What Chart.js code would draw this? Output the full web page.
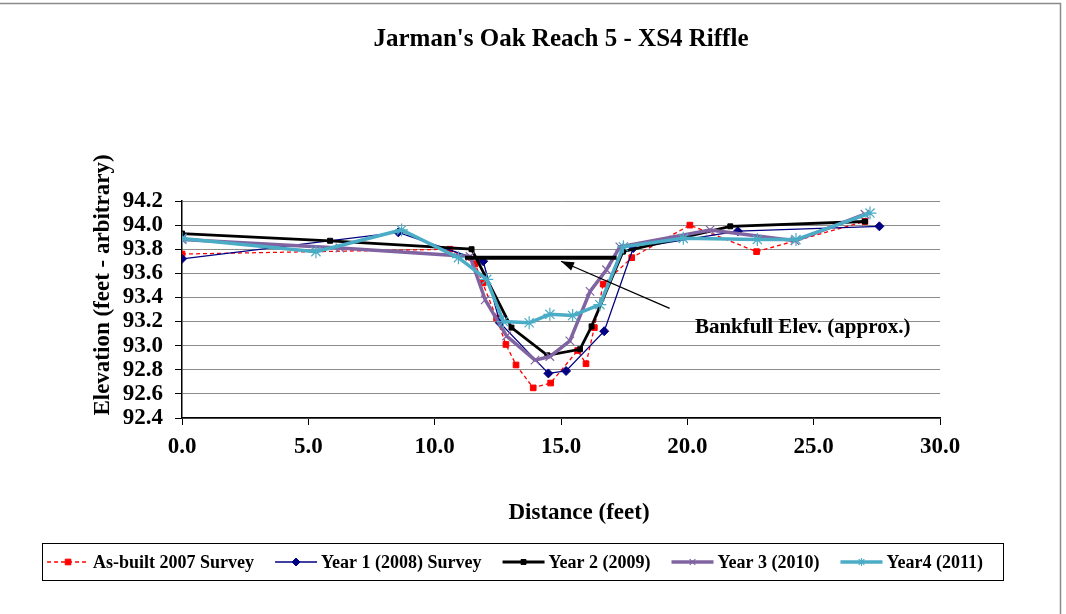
<!DOCTYPE html>
<html>
<head>
<meta charset="utf-8">
<script src="https://cdn.jsdelivr.net/npm/chart.js@4"></script>
<style>
  body { margin: 0; background: #fff; }
  #wrap { width: 1066px; height: 614px; position: relative; }
</style>
</head>
<body>
<div id="wrap"><canvas id="xsChart"></canvas></div>
<script>
// distances (ft) and elevations (ft)
const asBuiltX = [0, 10.6, 11.6, 11.9, 12.45, 12.82, 13.22, 13.9, 14.59, 15.66, 15.99, 16.32, 16.67, 17.8, 20.1, 22.74, 27.03];
const asBuiltY = [93.76, 93.80, 93.68, 93.52, 93.23, 93.01, 92.84, 92.65, 92.69, 92.96, 92.85, 93.15, 93.51, 93.73, 94.00, 93.78, 94.03];

const year1X = [0, 8.56, 11.92, 12.58, 14.5, 15.2, 16.71, 17.86, 22.0, 27.6];
const year1Y = [93.72, 93.94, 93.70, 93.19, 92.77, 92.79, 93.12, 93.81, 93.95, 93.99];

const year2X = [0, 5.86, 11.46, 13.04, 14.46, 15.75, 16.21, 17.45, 21.7, 27.03];
const year2Y = [93.93, 93.87, 93.80, 93.15, 92.92, 92.97, 93.16, 93.78, 93.99, 94.03];

const year3X = [0, 6.25, 11.4, 12.0, 12.85, 13.97, 14.56, 15.35, 16.15, 16.8, 17.33, 20.9, 24.26, 27.03];
const year3Y = [93.88, 93.81, 93.74, 93.38, 93.08, 92.88, 92.91, 93.04, 93.45, 93.63, 93.82, 93.96, 93.87, 94.09];

const year4X = [0, 5.3, 8.69, 10.94, 12.06, 12.72, 13.74, 14.56, 15.46, 16.54, 17.47, 19.84, 22.77, 24.3, 27.23];
const year4Y = [93.89, 93.78, 93.96, 93.73, 93.55, 93.20, 93.19, 93.26, 93.25, 93.34, 93.82, 93.89, 93.88, 93.88, 94.10];

const bankfullX = [11.2, 17.2];
const bankfullY = [93.73, 93.73];

const seriesNames = ['As-built 2007 Survey', 'Year 1 (2008) Survey', 'Year 2 (2009)', 'Year 3 (2010)', 'Year4 (2011)'];
const bankfullLabel = 'Bankfull Elev. (approx.)';
const yTitle = 'Elevation (feet - arbitrary)';
const xTitle = 'Distance (feet)';

const xTicks = { min: 0, max: 30, step: 5 };
const yTicks = { min: 92.4, max: 94.2, step: 0.2 };

// callout placement, in data units
const calloutFrom = [19.3, 93.31];
const calloutTo = [15.0, 93.70];
const calloutText = [20.3, 93.15];

const FONT = "'Liberation Serif', 'Times New Roman', serif";

function pts(xs, ys) {
    return xs.map((x, i) => ({ x: x, y: ys[i] }));
}

const datasets = [
    {
        label: seriesNames[0], data: pts(asBuiltX, asBuiltY),
        borderColor: '#ff0000', backgroundColor: '#ff0000', borderWidth: 1.3, borderDash: [4, 3],
        pointStyle: 'rect', pointRadius: 4, pointBorderWidth: 1, order: 5
    },
    {
        label: seriesNames[1], data: pts(year1X, year1Y),
        borderColor: '#000080', backgroundColor: '#000080', borderWidth: 1.3,
        pointStyle: 'rectRot', pointRadius: 4.5, pointBorderWidth: 1, order: 4
    },
    {
        label: seriesNames[2], data: pts(year2X, year2Y),
        borderColor: '#000000', backgroundColor: '#000000', borderWidth: 2.8,
        pointStyle: 'rect', pointRadius: 3.5, pointBorderWidth: 1, order: 3
    },
    {
        label: seriesNames[3], data: pts(year3X, year3Y),
        borderColor: '#8064a2', backgroundColor: '#8064a2', borderWidth: 3.5,
        pointStyle: 'crossRot', pointRadius: 6, pointBorderWidth: 1.2, order: 2
    },
    {
        label: seriesNames[4], data: pts(year4X, year4Y),
        borderColor: '#4bacc6', backgroundColor: '#4bacc6', borderWidth: 3.5,
        pointStyle: 'star', pointRadius: 6.5, pointBorderWidth: 1.2, order: 1
    },
    {
        label: 'bankfull', data: pts(bankfullX, bankfullY),
        borderColor: '#000000', borderWidth: 4, pointRadius: 0, order: 0
    }
];

// frame, axis titles, callout arrow + text, and the boxed legend at the bottom
const decorations = {
    id: 'decorations',
    afterDatasetsDraw(chart) {
        const ctx = chart.ctx;
        const xs = chart.scales.x, ys = chart.scales.y;
        const x1 = xs.getPixelForValue(calloutFrom[0]), y1 = ys.getPixelForValue(calloutFrom[1]);
        const x2 = xs.getPixelForValue(calloutTo[0]), y2 = ys.getPixelForValue(calloutTo[1]);
        ctx.save();
        ctx.strokeStyle = '#000';
        ctx.fillStyle = '#000';
        ctx.lineWidth = 1.3;
        ctx.beginPath();
        ctx.moveTo(x1, y1);
        ctx.lineTo(x2, y2);
        ctx.stroke();
        const ang = Math.atan2(y2 - y1, x2 - x1);
        const len = 13, wid = 4.5;
        ctx.beginPath();
        ctx.moveTo(x2, y2);
        ctx.lineTo(x2 - len * Math.cos(ang) + wid * Math.sin(ang), y2 - len * Math.sin(ang) - wid * Math.cos(ang));
        ctx.lineTo(x2 - len * Math.cos(ang) - wid * Math.sin(ang), y2 - len * Math.sin(ang) + wid * Math.cos(ang));
        ctx.closePath();
        ctx.fill();
        ctx.font = 'bold 21px ' + FONT;
        ctx.textBaseline = 'middle';
        ctx.fillText(bankfullLabel, xs.getPixelForValue(calloutText[0]), ys.getPixelForValue(calloutText[1]));
        ctx.restore();
    },
    afterDraw(chart) {
        const ctx = chart.ctx;
        ctx.save();
        // outer frame
        ctx.strokeStyle = '#8a8a8a';
        ctx.lineWidth = 1.5;
        ctx.strokeRect(-2, 3.5, 1062.5, 640);

        // axis titles
        ctx.fillStyle = '#000';
        ctx.font = 'bold 23px ' + FONT;
        ctx.textAlign = 'center';
        ctx.textBaseline = 'middle';
        ctx.fillText(xTitle, 579, 513);
        ctx.translate(103, 285);
        ctx.rotate(-Math.PI / 2);
        ctx.fillText(yTitle, 0, 0);
        ctx.setTransform(1, 0, 0, 1, 0, 0);
        ctx.textAlign = 'left';

        // legend box
        const box = { left: 42.5, top: 543.5, right: 1003.5, bottom: 580.5 };
        ctx.strokeStyle = '#000';
        ctx.lineWidth = 1;
        ctx.strokeRect(box.left, box.top, box.right - box.left, box.bottom - box.top);

        ctx.font = 'bold 18px ' + FONT;
        ctx.textBaseline = 'middle';
        const sample = 42, gap = 4, spacing = 21;
        const items = chart.data.datasets.slice(0, seriesNames.length);
        let total = 0;
        items.forEach((d, i) => {
            total += sample + gap + ctx.measureText(d.label).width;
            if (i < items.length - 1) total += spacing;
        });
        let x = (box.left + box.right) / 2 - total / 2 - 8;
        const cy = (box.top + box.bottom) / 2;
        items.forEach(d => {
            ctx.strokeStyle = d.borderColor;
            ctx.fillStyle = d.backgroundColor;
            ctx.lineWidth = d.borderWidth;
            ctx.setLineDash(d.borderDash || []);
            ctx.beginPath();
            ctx.moveTo(x, cy);
            ctx.lineTo(x + sample, cy);
            ctx.stroke();
            ctx.setLineDash([]);
            ctx.lineWidth = d.pointBorderWidth;
            Chart.helpers.drawPoint(ctx, {
                pointStyle: d.pointStyle, radius: Math.min(d.pointRadius, 4), rotation: 0, borderWidth: d.pointBorderWidth
            }, x + sample / 2, cy);
            x += sample + gap;
            ctx.fillStyle = '#000';
            ctx.fillText(d.label, x, cy + 1);
            x += ctx.measureText(d.label).width + spacing;
        });
        ctx.restore();
    }
};

new Chart(document.getElementById('xsChart'), {
    type: 'line',
    data: { datasets: datasets },
    options: {
        responsive: true,
        maintainAspectRatio: false,
        animation: false,
        events: [],
        layout: { padding: { left: 0, right: 126, top: 0, bottom: 84 } },
        elements: { line: { tension: 0 } },
        plugins: {
            legend: { display: false },
            tooltip: { enabled: false },
            title: {
                display: true,
                fullSize: false,
                text: "Jarman's Oak Reach 5 - XS4 Riffle",
                color: '#000',
                font: { family: FONT, size: 25, weight: 'bold' },
                padding: { top: 25, bottom: 146 }
            }
        },
        scales: {
            x: {
                type: 'linear',
                min: xTicks.min,
                max: xTicks.max,
                afterFit: s => { s.height = 112; },
                ticks: {
                    stepSize: xTicks.step,
                    color: '#000',
                    padding: 8,
                    font: { family: FONT, size: 23, weight: 'bold' },
                    callback: v => v.toFixed(1)
                },
                grid: { drawOnChartArea: false, drawTicks: true, tickLength: 7, color: '#000' },
                border: { color: '#000', width: 1.5 }
            },
            y: {
                min: yTicks.min,
                max: yTicks.max,
                afterFit: s => { s.width = 182; },
                ticks: {
                    stepSize: yTicks.step,
                    autoSkip: false,
                    color: '#000',
                    padding: 12,
                    font: { family: FONT, size: 23, weight: 'bold' },
                    callback: v => v.toFixed(1)
                },
                grid: { color: '#8c8c8c', lineWidth: 1, tickLength: 7, tickColor: '#000' },
                border: { color: '#000', width: 1.5 }
            }
        }
    },
    plugins: [decorations]
});
</script>
</body>
</html>
